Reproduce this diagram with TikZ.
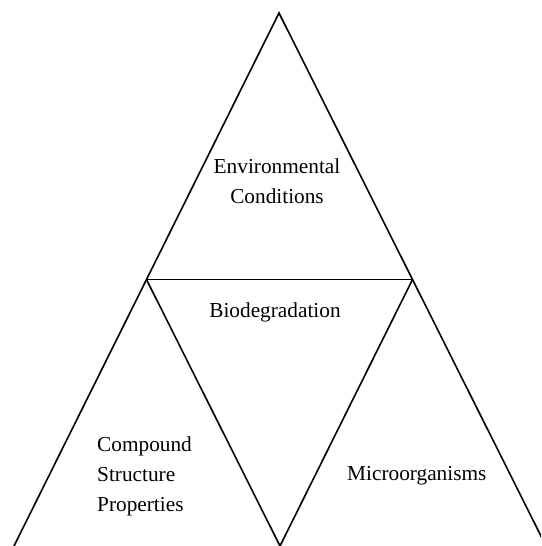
\documentclass[tikz,border=0pt]{standalone}
\usepackage{fontspec}
\setmainfont{Liberation Serif}
\begin{document}
\begin{tikzpicture}[x=1pt,y=-1pt]

\tikzstyle{edgestyle} = [draw=black, line width=1.6pt, line join=miter]
\tikzstyle{labelstyle} = [font={\fontsize{21.3}{30}\selectfont}, inner sep=0]

\useasboundingbox (0,0) rectangle (541,546);
\clip (0,0) rectangle (541,546);

\coordinate (top) at (279,13);
\coordinate (midleft) at (146.5,279.5);
\coordinate (midright) at (412.5,279.5);
\coordinate (botleft) at (14,546);
\coordinate (botmid) at (280,546);
\coordinate (botright) at (546,546);

\node [labelstyle, align=center] (env) at (277,181) {Environmental\\Conditions};
\node [labelstyle] (bio) at (275,312) {Biodegradation};
\node [labelstyle, align=left, anchor=west] (comp) at (97,476) {Compound\\Structure\\Properties};
\node [labelstyle, anchor=west] (micro) at (347,476) {Microorganisms};

\draw [edgestyle] (botleft) -- (top) -- (botright);
\draw [edgestyle] (midleft) -- (midright);
\draw [edgestyle] (midleft) -- (botmid) -- (midright);
\end{tikzpicture}
\end{document}
